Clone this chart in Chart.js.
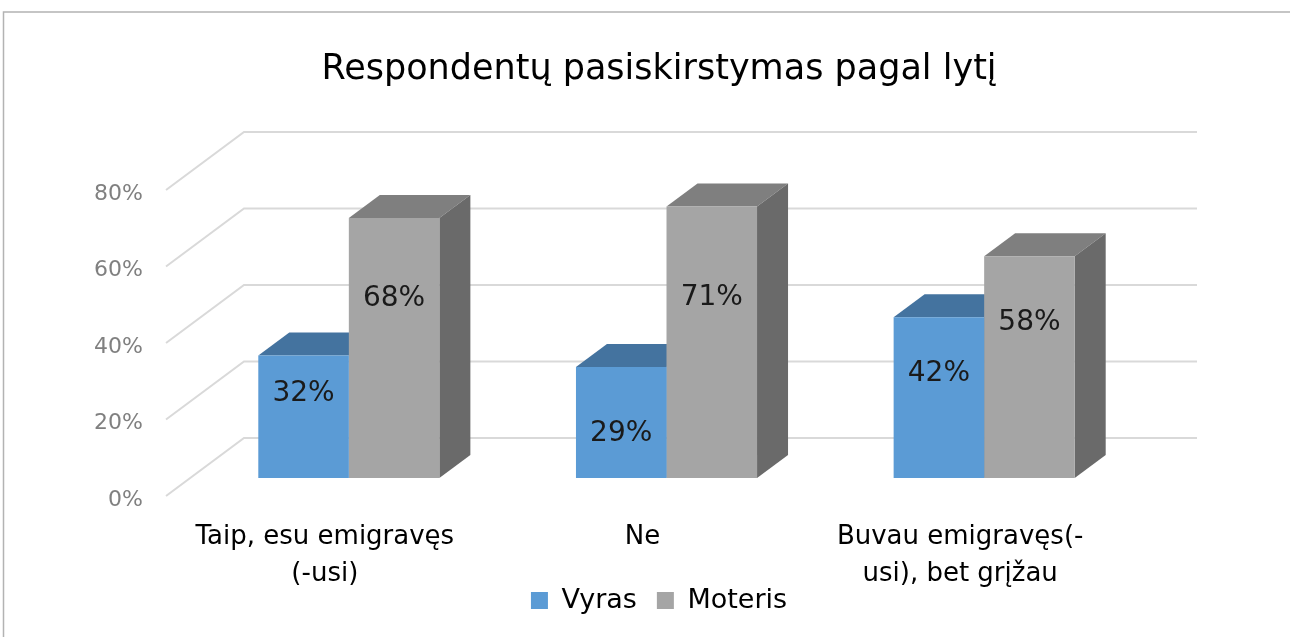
<!DOCTYPE html>
<html>
<head>
<meta charset="utf-8">
<script src="https://cdn.jsdelivr.net/npm/chart.js@4/dist/chart.umd.min.js"></script>
<style>
  html, body { margin: 0; padding: 0; background: #fff; }
  #wrap { width: 1290px; height: 637px; position: relative; }
</style>
</head>
<body>
<div id="wrap"><canvas id="chart" width="1290" height="637"></canvas></div>
<script>
// data
const categories = [['Taip, esu emigravęs', '(-usi)'], ['Ne'], ['Buvau emigravęs(-', 'usi), bet grįžau']];
const vyras = [0.32, 0.29, 0.42];
const moteris = [0.68, 0.71, 0.58];
const yTicks = [0, 0.2, 0.4, 0.6, 0.8];

// where the value labels sit, as a share of each bar's height
const vyrasLabelPos = [0.69, 0.40, 0.65];
const moterisLabelPos = [0.69, 0.665, 0.70];

const FONT = "'DejaVu Sans', sans-serif";

// 3d depth offsets (pixels), measured from the bar front plane
const BAR_DX = 31, BAR_DY = 23;
const FRONT_DX = -24, FRONT_DY = 18;
const BACK_DX = 54, BACK_DY = -40;

const faceColors = [
    { top: '#44739F', side: '#3B6590' },
    { top: '#7F7F7F', side: '#6A6A6A' }
];

const bars3d = {
    id: 'bars3d',
    beforeDraw(chart) {
        const ctx = chart.ctx;
        ctx.save();
        ctx.fillStyle = '#fff';
        ctx.fillRect(0, 0, chart.width, chart.height);
        // outer frame of the chart object
        ctx.strokeStyle = '#b3b3b3';
        ctx.lineWidth = 1.5;
        ctx.beginPath();
        ctx.moveTo(3.5, chart.height);
        ctx.lineTo(3.5, 12);
        ctx.lineTo(chart.width, 12);
        ctx.stroke();
        ctx.restore();
    },
    beforeDatasetsDraw(chart) {
        const { ctx, chartArea: a, scales: { y } } = chart;
        ctx.save();
        // side wall + back wall gridlines
        ctx.strokeStyle = '#d9d9d9';
        ctx.lineWidth = 2;
        y.ticks.forEach(t => {
            const py = y.getPixelForValue(t.value);
            ctx.beginPath();
            ctx.moveTo(a.left + FRONT_DX, py + FRONT_DY);
            ctx.lineTo(a.left + BACK_DX, py + BACK_DY);
            ctx.lineTo(a.right + BACK_DX, py + BACK_DY);
            ctx.stroke();
        });
        // top and side faces, front faces get drawn over them by chart.js
        chart.data.datasets.forEach((ds, di) => {
            chart.getDatasetMeta(di).data.forEach(bar => {
                const l = bar.x - bar.width / 2, r = bar.x + bar.width / 2;
                const t = bar.y, b = bar.base;
                ctx.fillStyle = faceColors[di].top;
                ctx.beginPath();
                ctx.moveTo(l, t);
                ctx.lineTo(r, t);
                ctx.lineTo(r + BAR_DX, t - BAR_DY);
                ctx.lineTo(l + BAR_DX, t - BAR_DY);
                ctx.closePath();
                ctx.fill();
                ctx.fillStyle = faceColors[di].side;
                ctx.beginPath();
                ctx.moveTo(r, t);
                ctx.lineTo(r + BAR_DX, t - BAR_DY);
                ctx.lineTo(r + BAR_DX, b - BAR_DY);
                ctx.lineTo(r, b);
                ctx.closePath();
                ctx.fill();
            });
        });
        ctx.restore();
    },
    afterDatasetsDraw(chart) {
        const ctx = chart.ctx;
        const positions = [vyrasLabelPos, moterisLabelPos];
        ctx.save();
        ctx.font = '28px ' + FONT;
        ctx.fillStyle = '#1a1a1a';
        ctx.textAlign = 'center';
        ctx.textBaseline = 'middle';
        chart.data.datasets.forEach((ds, di) => {
            chart.getDatasetMeta(di).data.forEach((bar, i) => {
                const yy = bar.base - positions[di][i] * (bar.base - bar.y);
                ctx.fillText(Math.round(ds.data[i] * 100) + '%', bar.x, yy);
            });
        });
        ctx.restore();
    }
};

new Chart(document.getElementById('chart').getContext('2d'), {
    type: 'bar',
    data: {
        labels: categories,
        datasets: [{
            label: 'Vyras',
            data: vyras,
            backgroundColor: '#5B9BD5',
            borderWidth: 0
        }, {
            label: 'Moteris',
            data: moteris,
            backgroundColor: '#A5A5A5',
            borderWidth: 0
        }]
    },
    options: {
        responsive: false,
        animation: false,
        datasets: {
            bar: { barPercentage: 1, categoryPercentage: 0.57 }
        },
        layout: {
            padding: { left: 28, right: 0, top: 14, bottom: 13 }
        },
        scales: {
            x: {
                grid: { display: false },
                border: { display: false },
                ticks: {
                    autoSkip: false,
                    maxRotation: 0,
                    // mirrored labels are not clipped to the axis box, so the
                    // second line can run down next to the legend
                    mirror: true,
                    labelOffset: FRONT_DX,
                    padding: -78,
                    color: '#000',
                    font: { family: FONT, size: 26, lineHeight: 1.42 }
                },
                afterFit(scale) { scale.height = 89; }
            },
            y: {
                min: 0,
                max: 0.8,
                grid: { display: false },
                border: { display: false },
                afterBuildTicks(scale) { scale.ticks = yTicks.map(v => ({ value: v })); },
                afterFit(scale) { scale.width = 162; },
                ticks: {
                    padding: 39,
                    labelOffset: FRONT_DY + 4,
                    color: '#808080',
                    font: { family: FONT, size: 22 },
                    callback: v => Math.round(v * 100) + '%'
                }
            },
            // empty right-hand box so the plot sits where it does in the original
            spacer: {
                type: 'linear',
                position: 'right',
                grid: { display: false },
                border: { display: false },
                ticks: { display: false },
                afterFit(scale) { scale.width = 147; }
            }
        },
        plugins: {
            title: {
                display: true,
                text: 'Respondentų pasiskirstymas pagal lytį',
                color: '#000',
                font: { family: FONT, size: 35, weight: 'normal', lineHeight: 1.2 },
                padding: { top: 35, bottom: 81 }
            },
            legend: {
                position: 'bottom',
                labels: {
                    boxWidth: 17,
                    boxHeight: 17,
                    padding: 20,
                    color: '#000',
                    font: { family: FONT, size: 27 }
                }
            },
            tooltip: { enabled: false }
        }
    },
    plugins: [bars3d]
});
</script>
</body>
</html>
